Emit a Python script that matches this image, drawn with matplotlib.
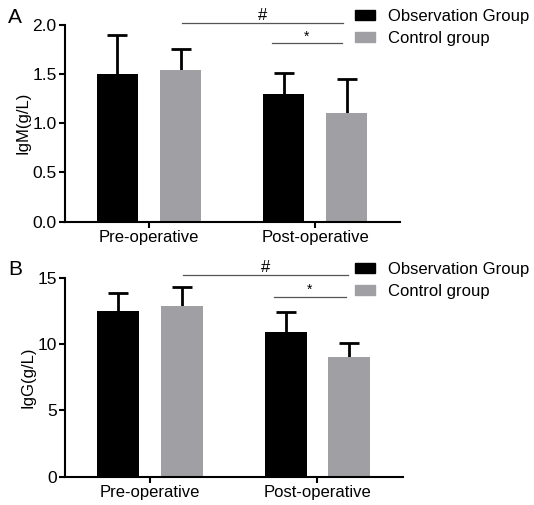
import numpy as np
import matplotlib.pyplot as plt
from matplotlib.patches import Rectangle

plt.rcParams['font.family'] = ['Liberation Sans', 'DejaVu Sans']

# ==========================================
# DATA
# ==========================================
periods = ['Pre-operative', 'Post-operative']
groups = ['Observation Group', 'Control group']
colors = ['#000000', '#a0a0a4']

igm_obs = [1.50, 1.30]
igm_obs_err = [0.40, 0.21]
igm_ctrl = [1.54, 1.10]
igm_ctrl_err = [0.21, 0.35]

igg_obs = [12.5, 10.88]
igg_obs_err = [1.37, 1.51]
igg_ctrl = [12.9, 9.0]
igg_ctrl_err = [1.42, 1.05]

# significance brackets: (x start, x end, y, label)
igm_sig = [(0.20, 1.17, 2.02, '#'), (0.74, 1.16, 1.81, '*')]
igg_sig = [(0.20, 1.18, 15.2, '#'), (0.74, 1.17, 13.57, '*')]

BAR_W = 0.25
OFFSET = 0.19


def draw_panel(ax, obs, obs_err, ctrl, ctrl_err, ylim, yticks, ylabel, sig, ytick_fmt):
    x = np.arange(len(periods))
    series = [(obs, obs_err), (ctrl, ctrl_err)]
    for i, (vals, errs) in enumerate(series):
        xpos = x + (i * 2 - 1) * OFFSET
        ax.bar(xpos, vals, width=BAR_W, color=colors[i], zorder=2, label=groups[i])
        eb = ax.errorbar(xpos, vals, yerr=[np.zeros(len(vals)), errs], fmt='none',
                         ecolor='black', elinewidth=2, capsize=7, capthick=2, zorder=1,
                         clip_on=False)
        # hide the lower caps (sitting on the bar top)
        for cl in eb[1]:
            if np.allclose(cl.get_ydata(), vals):
                cl.set_visible(False)

    for x0, x1, y, lab in sig:
        ax.plot([x0, x1], [y, y], color='#555555', lw=0.9, clip_on=False)
        ax.text((x0 + x1) / 2, y, lab, ha='center', va='bottom',
                fontsize=12 if lab == '#' else 10)

    ax.set_xlim(-0.506, 1.51)
    ax.set_ylim(*ylim)
    ax.set_yticks(yticks)
    ax.set_yticklabels([ytick_fmt.format(t) for t in yticks])
    ax.set_xticks(x)
    ax.set_xticklabels(periods, fontsize=12)
    ax.set_ylabel(ylabel, fontsize=12, labelpad=1)
    for s in ['top', 'right']:
        ax.spines[s].set_visible(False)
    for s in ['left', 'bottom']:
        ax.spines[s].set_linewidth(1.5)
    ax.tick_params(width=1.5, length=4, pad=2)
    ax.tick_params(axis='y', labelsize=12.5)


fig = plt.figure(figsize=(5.34, 5.05), dpi=100)
ax1 = fig.add_axes([0.1217, 0.561, 0.627, 0.390])
ax2 = fig.add_axes([0.1217, 0.056, 0.633, 0.394])

draw_panel(ax1, igm_obs, igm_obs_err, igm_ctrl, igm_ctrl_err, (0, 2.0),
           [0, 0.5, 1.0, 1.5, 2.0], 'IgM(g/L)', igm_sig, '{:.1f}')
draw_panel(ax2, igg_obs, igg_obs_err, igg_ctrl, igg_ctrl_err, (0, 15),
           [0, 5, 10, 15], 'IgG(g/L)', igg_sig, '{:g}')

handles = [Rectangle((0, 0), 1, 1, color=c) for c in colors]
for ax, top in [(ax1, 0.982), (ax2, 0.481)]:
    fig.legend(handles, groups, loc='upper left', bbox_to_anchor=(0.664, top),
               frameon=False, fontsize=12, handlelength=1.2, handleheight=0.55,
               handletextpad=0.8, labelspacing=0.4, borderpad=0, borderaxespad=0)

fig.text(0.015, 0.966, 'A', fontsize=15, va='center')
fig.text(0.015, 0.466, 'B', fontsize=15, va='center')

fig.savefig('out.png', dpi=100)
